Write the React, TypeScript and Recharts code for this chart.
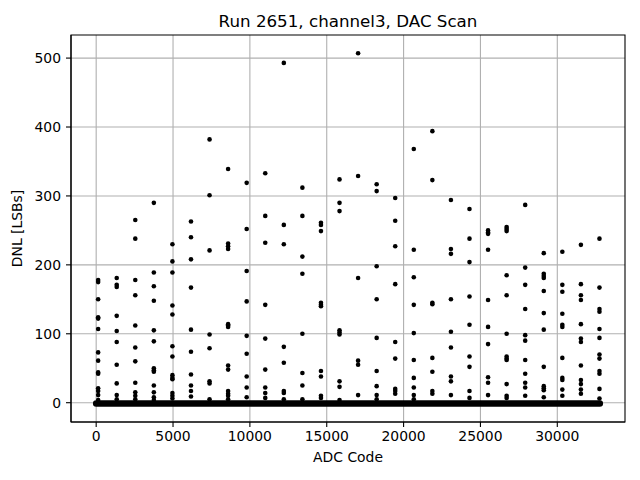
import React from 'react';
import {
  ComposedChart,
  Scatter,
  Line,
  XAxis,
  YAxis,
  CartesianGrid,
  ReferenceArea,
} from 'recharts';

// ADC codes of the measured columns
const columnCodes: number[] = [
  128, 1336, 2544, 3752, 4960, 6168, 7376, 8584, 9792, 11000, 12208, 13416, 14624, 15832,
  17040, 18248, 19456, 20664, 21872, 23080, 24288, 25496, 26704, 27912, 29120, 30328, 31536, 32744,
];

// DNL values (LSBs) read for each column
const columnDnl: number[][] = [
  [178, 175, 150, 124, 122, 107, 73, 61, 44, 42, 21, 17, 11, 4],
  [181, 171, 168, 126, 104, 88, 55, 28, 11, 5],
  [265, 238, 178, 156, 112, 80, 60, 29, 15, 10, 5],
  [290, 189, 169, 148, 105, 89, 50, 47, 45, 25, 15, 8, 4],
  [230, 205, 189, 141, 128, 82, 67, 40, 36, 34, 14, 10, 6],
  [263, 240, 208, 167, 106, 74, 41, 25, 17, 9],
  [382, 301, 221, 99, 79, 31, 28, 5],
  [339, 231, 227, 223, 114, 112, 110, 54, 48, 17, 13, 10, 5],
  [319, 252, 191, 147, 97, 71, 38, 22, 8],
  [333, 271, 232, 142, 93, 48, 22, 14, 7],
  [493, 258, 230, 81, 58, 17, 14, 5],
  [312, 271, 212, 187, 100, 43, 25, 5],
  [261, 258, 249, 145, 142, 140, 46, 38, 10, 7],
  [324, 290, 278, 105, 102, 99, 31, 23, 4],
  [507, 329, 181, 61, 55, 11],
  [317, 307, 198, 150, 94, 46, 24, 11, 5],
  [297, 264, 227, 172, 88, 64, 20, 17, 13],
  [368, 222, 182, 142, 101, 62, 36, 22, 11, 5],
  [394, 323, 145, 143, 65, 45, 17, 13],
  [294, 223, 216, 150, 103, 80, 38, 31, 11],
  [281, 238, 204, 154, 113, 67, 52, 17, 7],
  [250, 247, 245, 222, 149, 110, 85, 37, 29, 11],
  [255, 252, 249, 185, 156, 100, 67, 64, 62, 27, 10, 7],
  [287, 196, 171, 136, 98, 90, 62, 42, 29, 22, 10],
  [217, 187, 184, 181, 162, 130, 106, 52, 24, 21, 18, 8],
  [219, 171, 161, 129, 113, 110, 65, 36, 33, 19, 10],
  [229, 172, 156, 149, 114, 93, 88, 54, 33, 27, 19, 13],
  [238, 167, 136, 132, 107, 94, 70, 64, 46, 42, 20, 6],
];

// Dense band of codes with DNL near zero (first and last code)
const bandCodes: number[] = [0, 32767];
const bandDnl: number[] = [-1, -1];

const xTicks: number[] = [0, 5000, 10000, 15000, 20000, 25000, 30000];
const yTicks: number[] = [0, 100, 200, 300, 400, 500];
const xDomain: [number, number] = [-1638, 34405];
const yDomain: [number, number] = [-28, 533.5];

const points = columnCodes.flatMap((code, i) =>
  columnDnl[i].map((v) => ({ x: code, y: v }))
);
const band = bandCodes.map((c, i) => ({ x: c, y: bandDnl[i] }));

const FONT = 'DejaVu Sans, sans-serif';

const Dot = (props: any) => {
  const { cx, cy } = props;
  if (cx == null || cy == null) return null;
  return <circle cx={cx} cy={cy} r={2.3} fill="#000" />;
};

export default function App() {
  return (
    <div style={{ position: 'absolute', left: 0, top: 0, width: 640, height: 480, background: '#fff' }}>
      <ComposedChart
        width={640}
        height={480}
        margin={{ top: 35, right: 15, bottom: 0, left: 0 }}
        style={{ fontFamily: FONT }}
      >
        <CartesianGrid stroke="#b0b0b0" strokeWidth={1.1} verticalValues={xTicks} horizontalValues={yTicks} />
        <XAxis
          type="number"
          dataKey="x"
          domain={xDomain}
          ticks={xTicks}
          allowDataOverflow
          height={58}
          tickSize={5}
          tickMargin={4}
          axisLine={{ stroke: '#000', strokeWidth: 1.1 }}
          tickLine={{ stroke: '#000', strokeWidth: 1.1 }}
          tick={{ fill: '#000', fontSize: 13.9, fontFamily: FONT }}
          label={{ value: 'ADC Code', position: 'insideBottom', offset: 18, fill: '#000', fontSize: 13.9, fontFamily: FONT }}
        />
        <YAxis
          type="number"
          dataKey="y"
          domain={yDomain}
          ticks={yTicks}
          allowDataOverflow
          width={71}
          tickSize={5}
          tickMargin={5}
          axisLine={{ stroke: '#000', strokeWidth: 1.1 }}
          tickLine={{ stroke: '#000', strokeWidth: 1.1 }}
          tick={{ fill: '#000', fontSize: 13.9, fontFamily: FONT }}
          label={{
            value: 'DNL [LSBs]',
            angle: -90,
            position: 'insideLeft',
            offset: 17,
            fill: '#000',
            fontSize: 13.9,
            fontFamily: FONT,
            style: { textAnchor: 'middle' },
          }}
        />
        <Line
          data={band}
          dataKey="y"
          type="linear"
          stroke="#000"
          strokeWidth={6.5}
          strokeLinecap="round"
          dot={false}
          activeDot={false}
          isAnimationActive={false}
        />
        <Scatter data={points} dataKey="y" fill="#000" shape={Dot} isAnimationActive={false} />
        <ReferenceArea
          x1={xDomain[0]}
          x2={xDomain[1]}
          y1={yDomain[0]}
          y2={yDomain[1]}
          fill="none"
          fillOpacity={0}
          stroke="#000"
          strokeWidth={1.1}
          ifOverflow="visible"
        />
      </ComposedChart>
      <svg
        width={640}
        height={34}
        style={{ position: 'absolute', left: 0, top: 0, pointerEvents: 'none' }}
      >
        <text x={348} y={27.3} textAnchor="middle" fontSize={16.7} fontFamily={FONT} fill="#000">
          Run 2651, channel3, DAC Scan
        </text>
      </svg>
    </div>
  );
}
